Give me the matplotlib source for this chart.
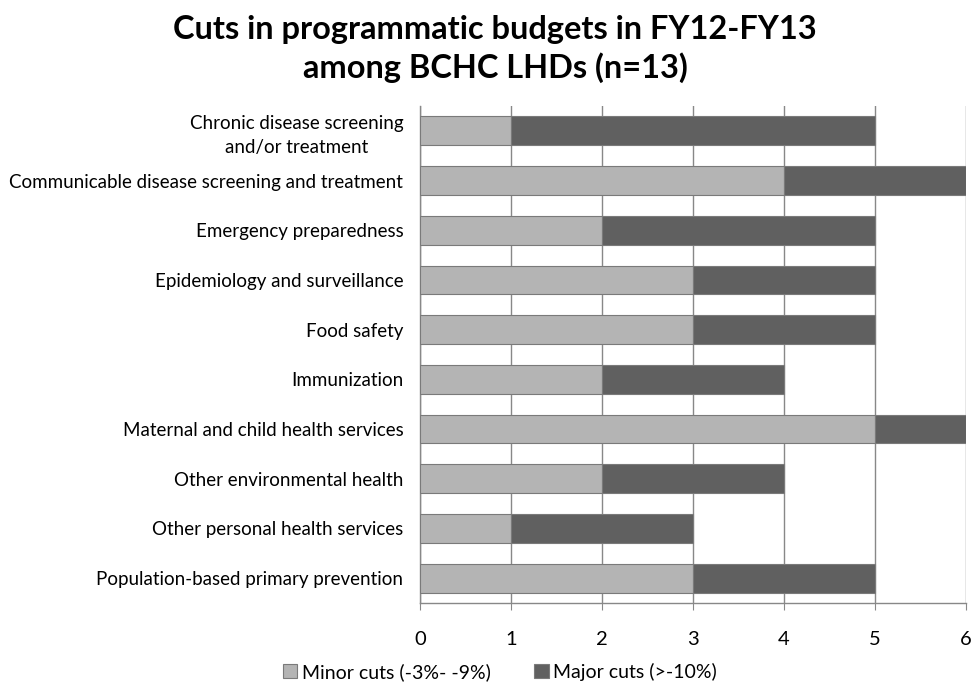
import matplotlib
matplotlib.use("Agg")
import matplotlib.pyplot as plt
import numpy as np

categories = [
    "Chronic disease screening\nand/or treatment",
    "Communicable disease screening and treatment",
    "Emergency preparedness",
    "Epidemiology and surveillance",
    "Food safety",
    "Immunization",
    "Maternal and child health services",
    "Other environmental health",
    "Other personal health services",
    "Population-based primary prevention",
]
minor_cuts = [1, 4, 2, 3, 3, 2, 5, 2, 1, 3]
major_cuts = [4, 2, 3, 2, 2, 2, 1, 2, 2, 2]
x_ticks = [0, 1, 2, 3, 4, 5, 6]
series_labels = ["Minor cuts (-3%- -9%)", "Major cuts (>-10%)"]
title = "Cuts in programmatic budgets in FY12-FY13\namong BCHC LHDs (n=13)"

plt.rcParams["font.family"] = ["Lato", "DejaVu Sans"]

fig = plt.figure(figsize=(9.73, 6.83), dpi=100)
ax = fig.add_axes([420 / 973, 1 - 603 / 683, 546 / 973, 497 / 683])

y = np.arange(len(categories))
light = "#b4b4b4"
dark = "#606060"
edge = "#7a7a7a"
ax.barh(y, minor_cuts, height=0.58, color=light, edgecolor=edge, linewidth=0.8,
        label=series_labels[0], zorder=3)
ax.barh(y, major_cuts, left=minor_cuts, height=0.58, color=dark, edgecolor=edge,
        linewidth=0.8, label=series_labels[1], zorder=3)

ax.set_ylim(len(categories) - 0.5, -0.5)
ax.set_xlim(0, 6)
ax.set_xticks(x_ticks)
ax.set_yticks(y)
ax.set_yticklabels(categories, fontsize=13.5, linespacing=1.45)
ax.tick_params(axis="y", length=0, pad=12)
ax.tick_params(axis="x", length=5, color="#888888", labelsize=14.5, pad=15)
for tl in ax.get_yticklabels():
    tl.set_horizontalalignment("right")
    tl.set_multialignment("center")

ax.grid(axis="x", color="#888888", linewidth=1.0, zorder=0)
for s in ["top", "right"]:
    ax.spines[s].set_visible(False)
ax.spines["left"].set_color("#888888")
ax.spines["bottom"].set_color("#888888")
ax.spines["left"].set_linewidth(1.0)
ax.spines["bottom"].set_linewidth(1.0)

fig.text(495 / 973, 1 - 49 / 683, title, ha="center", va="center",
         fontsize=23.4, fontweight="bold", linespacing=1.35)

fig.legend(loc="center", bbox_to_anchor=(500 / 973, 1 - 672 / 683), ncol=2,
           frameon=False, fontsize=14, handlelength=0.75, handleheight=0.75,
           handletextpad=0.25, columnspacing=2.2, borderpad=0)

fig.savefig("out.png", dpi=100)
